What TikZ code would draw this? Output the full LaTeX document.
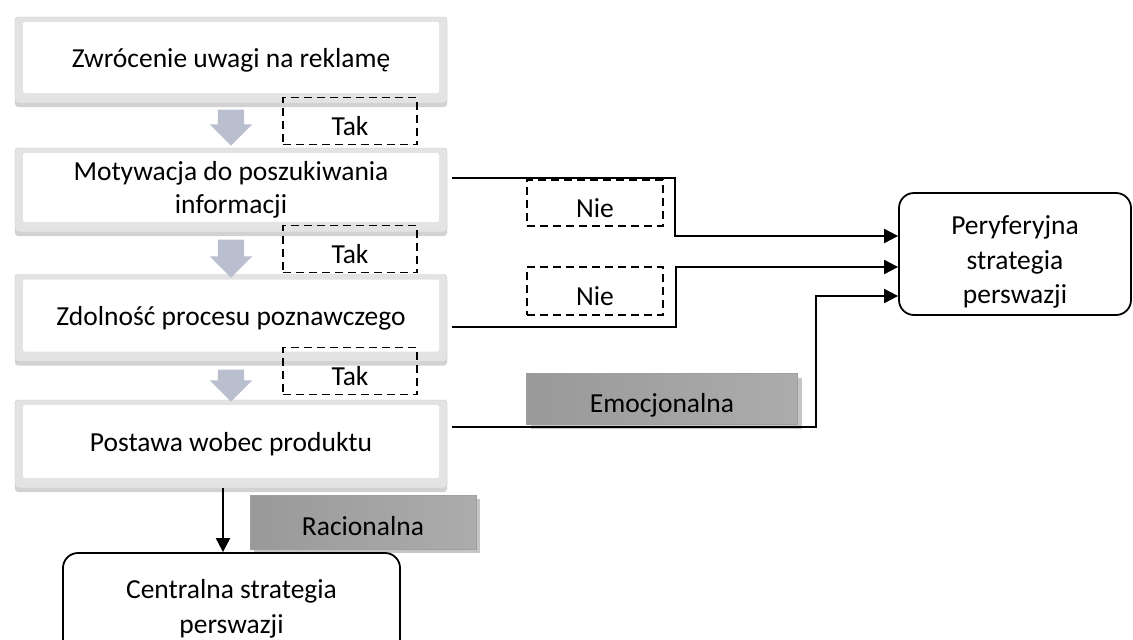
\documentclass[tikz,border=0pt]{standalone}
\usepackage{fontspec}
\setmainfont{Carlito}
\usetikzlibrary{shapes.arrows,shadows,arrows.meta}
\definecolor{arrowblue}{RGB}{186,191,208}
\tikzset{
  bevelbox/.style={draw=gray!45, fill=gray!22, minimum width=432pt, inner sep=0pt,
    rounded corners=3pt, align=center, font=\fontsize{27.5}{33}\selectfont,
    drop shadow={shadow xshift=0pt, shadow yshift=-4pt, opacity=0.35, fill=gray},
    path picture={\fill[white, rounded corners=2pt]
      ([shift={(8pt,-5pt)}]path picture bounding box.north west) rectangle
      ([shift={(-8pt,10pt)}]path picture bounding box.south east);}},
  dashbox/.style={draw=black, line width=1.8pt, dash pattern=on 8pt off 5pt,
    minimum width=134pt, minimum height=47pt, inner sep=0pt, text height=28pt, text depth=0pt,
    font=\fontsize{27.5}{33}\selectfont},
  gradbox/.style={draw=gray!75, line width=0.8pt, left color=gray!80, middle color=gray!25,
    right color=gray!65, inner sep=0pt, text height=27pt, text depth=0pt,
    font=\fontsize{27.5}{33}\selectfont,
    drop shadow={shadow xshift=4pt, shadow yshift=-4pt, opacity=0.45, fill=gray}},
  endbox/.style={draw=black, line width=1.8pt, rounded corners=15pt, fill=white,
    align=center, inner sep=0pt},
  endtext/.style={align=center, inner sep=0pt, font=\fontsize{27.5}{34.5}\selectfont},
  blockarrow/.style={shape=single arrow, fill=arrowblue, draw=none, inner xsep=0pt,
    inner ysep=13pt, single arrow head extend=8pt, single arrow head indent=0pt,
    rotate=-90, text width=0pt},
  arr/.style={line width=2pt, -{Triangle[length=14pt,width=14pt]}}
}
\begin{document}
\begin{tikzpicture}[x=1pt,y=-1pt]
\useasboundingbox (0,0) rectangle (1133,640);
\clip (0,0) rectangle (1133,640);
\fill[white] (0,0) rectangle (1133,640);
% main boxes
\node[bevelbox, minimum height=86pt] (b1) at (231,60) {Zwrócenie uwagi na reklamę};
\node[bevelbox, minimum height=84pt] (b2) at (231,190) {Motywacja do poszukiwania\\informacji};
\node[bevelbox, minimum height=87pt] (b3) at (231,318) {Zdolność procesu poznawczego};
\node[bevelbox, minimum height=88pt] (b4) at (231,444) {Postawa wobec produktu};
% block arrows
\node[blockarrow, minimum height=36pt] (a1) at (231,121) {};
\node[blockarrow, minimum height=38pt] (a2) at (231,252) {};
\node[blockarrow, minimum height=32pt] (a3) at (231,379) {};
% dashed labels
\node[dashbox] (t1) at (350,121) {Tak};
\node[dashbox] (t2) at (350,249) {Tak};
\node[dashbox] (t3) at (350,371) {Tak};
\node[dashbox, minimum width=136pt, minimum height=46pt] (n1) at (595,203) {Nie};
\node[dashbox, minimum width=136pt, minimum height=48pt] (n2) at (595,291) {Nie};
% gradient labels
\node[gradbox, minimum width=271pt, minimum height=51pt] (emo) at (662,399) {Emocjonalna};
\node[gradbox, minimum width=226pt, minimum height=54pt] (rac) at (363,522) {Racionalna};
% end boxes
\node[endbox, minimum width=232pt, minimum height=122pt] (per) at (1015,254) {};
\node[endtext] (pert) at (1015,262) {Peryferyjna\\strategia\\perswazji};
\node[endbox, minimum width=337pt, minimum height=110pt] (cen) at (231.5,608) {};
\node[endtext] (cent) at (231.5,609) {Centralna strategia\\perswazji};
% connector points
\coordinate (s1) at (452,178);
\coordinate (k1) at (675,178);
\coordinate (k1b) at (675,236);
\coordinate (s2) at (452,327);
\coordinate (k2) at (676,327);
\coordinate (k2b) at (676,267);
\coordinate (s3) at (452,427);
\coordinate (k3) at (816,427);
\coordinate (k3b) at (816,296);
\draw[arr] (s1) -- (k1) -- (k1b) -- (k1b -| per.west);
\draw[arr] (s2) -- (k2) -- (k2b) -- (k2b -| per.west);
\draw[arr] (s3) -- (k3) -- (k3b) -- (k3b -| per.west);
\draw[arr] ([xshift=-8pt]b4.south) -- ([xshift=-8pt]b4.south |- cen.north);
\end{tikzpicture}
\end{document}
